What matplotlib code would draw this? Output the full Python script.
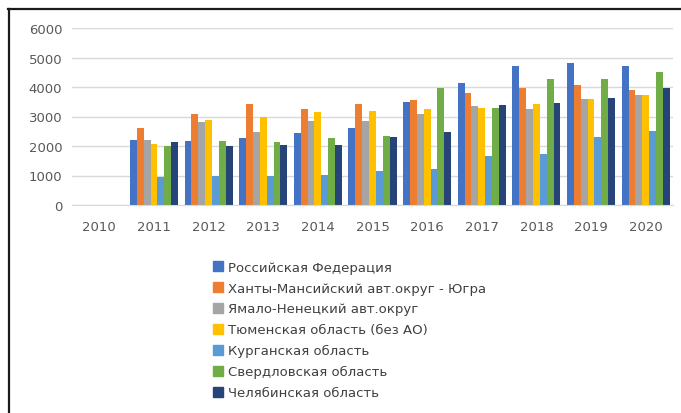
import matplotlib
matplotlib.use("Agg")
import matplotlib.pyplot as plt
from matplotlib.lines import Line2D
import numpy as np

years = ["2010", "2011", "2012", "2013", "2014", "2015", "2016", "2017", "2018", "2019", "2020"]
series_names = [
    "Российская Федерация",
    "Ханты-Мансийский авт.округ - Югра",
    "Ямало-Ненецкий авт.округ",
    "Тюменская область (без АО)",
    "Курганская область",
    "Свердловская область",
    "Челябинская область",
]
rf      = [0, 2200, 2170, 2265, 2445, 2605, 3490, 4145, 4710, 4825, 4700]
hmao    = [0, 2600, 3090, 3410, 3250, 3440, 3545, 3795, 3975, 4065, 3885]
yanao   = [0, 2220, 2800, 2460, 2855, 2855, 3090, 3350, 3240, 3580, 3715]
tyumen  = [0, 2070, 2880, 2980, 3150, 3195, 3240, 3295, 3420, 3580, 3715]
kurgan  = [0, 960, 1000, 1000, 1020, 1165, 1235, 1655, 1730, 2300, 2525]
sverd   = [0, 1990, 2160, 2130, 2265, 2355, 3965, 3285, 4260, 4280, 4520]
chel    = [0, 2120, 1990, 2030, 2050, 2310, 2490, 3375, 3465, 3625, 3965]
yticks = [0, 1000, 2000, 3000, 4000, 5000, 6000]

colors = ["#4472C4", "#ED7D31", "#A5A5A5", "#FFC000", "#5B9BD5", "#70AD47", "#264478"]
data = [rf, hmao, yanao, tyumen, kurgan, sverd, chel]

W, H = 681, 414
fig = plt.figure(figsize=(W / 100, H / 100), dpi=100)
fig.patch.set_facecolor("white")

left, right, bottom, top = 72, 673, 206, 29
ax = fig.add_axes([left / W, 1 - bottom / H, (right - left) / W, (bottom - top) / H])

x = np.arange(len(years))
n = len(data)
group_w = 0.88
bw = group_w / n
for i, (vals, c, name) in enumerate(zip(data, colors, series_names)):
    ax.bar(x - group_w / 2 + bw * (i + 0.5), vals, width=bw, color=c, label=name,
           linewidth=0)

ax.set_xlim(-0.5, len(years) - 0.5)
ax.set_ylim(0, 6000)
ax.set_yticks(yticks)
ax.set_yticklabels([str(v) for v in yticks])
ax.set_xticks(x)
ax.set_xticklabels(years)
ax.tick_params(axis="both", length=0, labelsize=9.5, colors="#595959")
ax.tick_params(axis="y", pad=7)
ax.tick_params(axis="x", pad=11)
ax.grid(axis="y", color="#D9D9D9", linewidth=1)
ax.set_axisbelow(True)
for s in ["top", "right", "left"]:
    ax.spines[s].set_visible(False)
ax.spines["bottom"].set_color("#D9D9D9")

handles = [plt.Rectangle((0, 0), 1, 1, color=c) for c in colors]
fig.legend(handles, series_names, loc="upper left",
           bbox_to_anchor=(206 / W, 1 - 255 / H), frameon=False,
           fontsize=9.5, labelcolor="#404040", handlelength=0.8, handleheight=0.8,
           handletextpad=0.4, labelspacing=0.6, borderpad=0)

fig.add_artist(Line2D([8.5 / W, 8.5 / W], [0, 1 - 9.5 / H], color="#1a1a1a", linewidth=1.6,
                      transform=fig.transFigure))
fig.add_artist(Line2D([8 / W, 1], [1 - 9.5 / H, 1 - 9.5 / H], color="#1a1a1a", linewidth=1.6,
                      transform=fig.transFigure))

fig.savefig("out.png", dpi=100, facecolor="white")
